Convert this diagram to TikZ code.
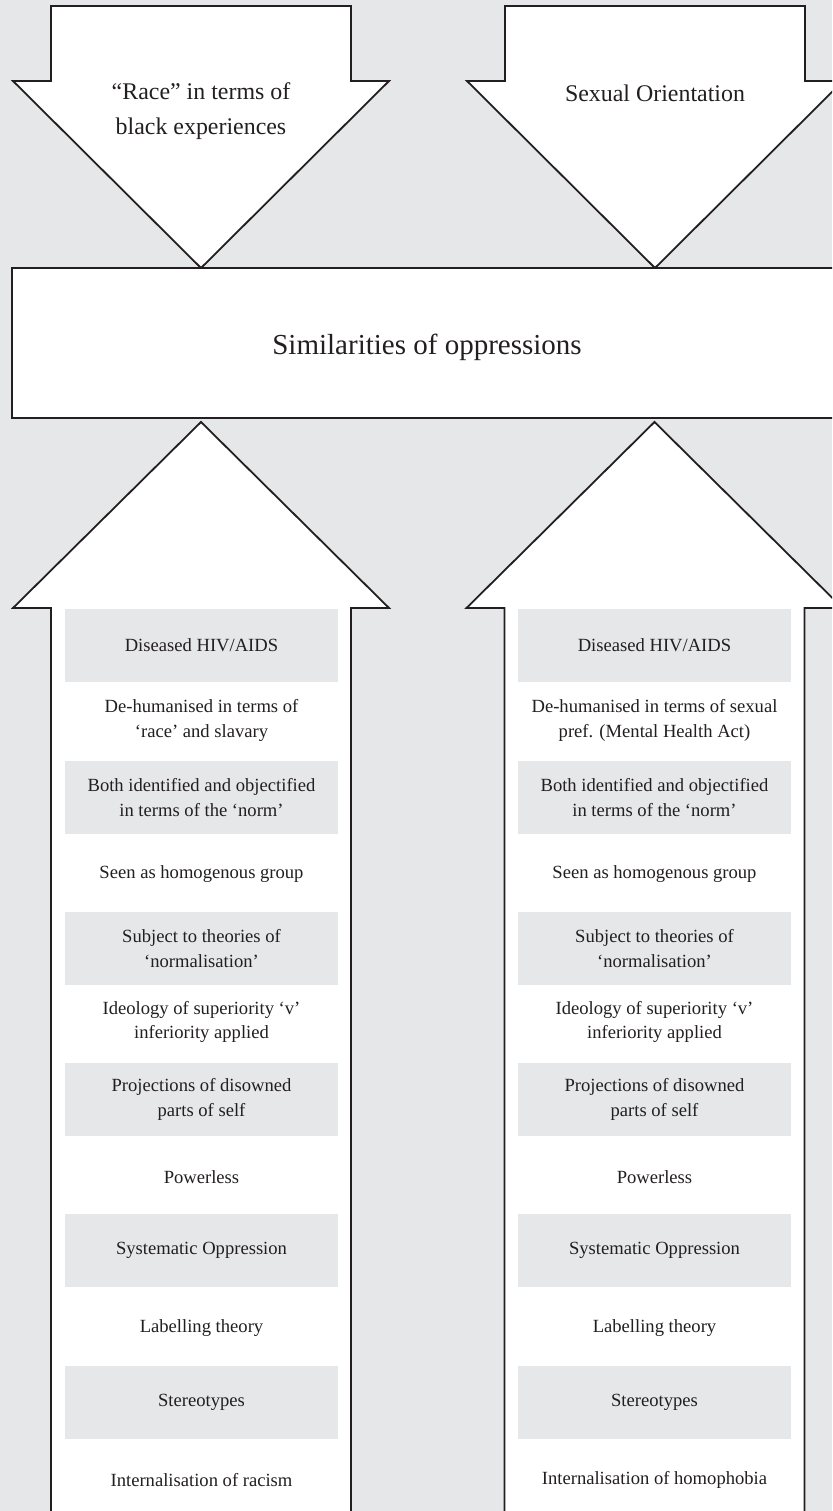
\documentclass[tikz,border=0pt]{standalone}
\usepackage{fontspec}
\setmainfont{Liberation Serif}
\definecolor{bg}{HTML}{E6E7E8}
\definecolor{ink}{HTML}{231F20}
\begin{document}
\begin{tikzpicture}[x=1pt,y=-1pt,
  shapeline/.style={draw=ink, line width=1.8pt, fill=white, line join=miter},
  bigbox/.style={draw=ink, line width=1.8pt, fill=white, minimum width=833pt, minimum height=150pt, inner sep=0pt},
  toptext/.style={align=center, text=ink, inner sep=0pt, font=\fontsize{23.9}{35}\selectfont},
  midtext/.style={align=center, text=ink, inner sep=0pt, font=\fontsize{29}{35}\selectfont},
  rowbase/.style={align=center, text=ink, inner sep=0pt, minimum width=273pt, font=\fontsize{18.6}{24.5}\selectfont},
  rowg/.style={rowbase, fill=bg, minimum height=73pt},
  roww/.style={rowbase, minimum height=76pt}]
\useasboundingbox (0,0) rectangle (832,1511);
\clip (0,0) rectangle (832,1511);
\fill[bg] (0,0) rectangle (832,1511);

% down arrows
\foreach \cx in {201,655}{
  \draw[shapeline] (\cx-150,6) -- (\cx+150,6) -- (\cx+150,81) -- (\cx+188,81)
    -- (\cx,268) -- (\cx-188,81) -- (\cx-150,81) -- cycle;
}
\node[toptext] (race) at (201,111) {“Race” in terms of\\black experiences};
\node[toptext] (sexor) at (655,93) {Sexual Orientation};

% central box
\node[bigbox] (simbox) at (428.5,343) {};
\node[midtext] (simtext) at (427,347) {Similarities of oppressions};

% up arrows
\foreach \cx in {201,654.5}{
  \draw[shapeline] (\cx,422) -- (\cx+188,608) -- (\cx+150,608) -- (\cx+150,1530)
    -- (\cx-150,1530) -- (\cx-150,608) -- (\cx-188,608) -- cycle;
}

% left column
\node[rowg] (l1)  at (201.5,645.5)  {Diseased HIV/AIDS};
\node[roww] (l2)  at (201.5,720.5)  {De-humanised in terms of\\‘race’ and slavary};
\node[rowg] (l3)  at (201.5,797.5)  {Both identified and objectified\\in terms of the ‘norm’};
\node[roww] (l4)  at (201.5,874)    {Seen as homogenous group};
\node[rowg] (l5)  at (201.5,948.5)  {Subject to theories of\\‘normalisation’};
\node[roww] (l6)  at (201.5,1022)   {Ideology of superiority ‘v’\\inferiority applied};
\node[rowg] (l7)  at (201.5,1099.5) {Projections of disowned\\parts of self};
\node[roww] (l8)  at (201.5,1177)   {Powerless};
\node[rowg] (l9)  at (201.5,1250.5) {Systematic Oppression};
\node[roww] (l10) at (201.5,1328)   {Labelling theory};
\node[rowg] (l11) at (201.5,1402.5) {Stereotypes};
\node[roww] (l12) at (201.5,1480)   {Internalisation of racism};

% right column
\node[rowg] (r1)  at (654.5,645.5)  {Diseased HIV/AIDS};
\node[roww] (r2)  at (654.5,720.5)  {De-humanised in terms of sexual\\pref. (Mental Health Act)};
\node[rowg] (r3)  at (654.5,797.5)  {Both identified and objectified\\in terms of the ‘norm’};
\node[roww] (r4)  at (654.5,874)    {Seen as homogenous group};
\node[rowg] (r5)  at (654.5,948.5)  {Subject to theories of\\‘normalisation’};
\node[roww] (r6)  at (654.5,1022)   {Ideology of superiority ‘v’\\inferiority applied};
\node[rowg] (r7)  at (654.5,1099.5) {Projections of disowned\\parts of self};
\node[roww] (r8)  at (654.5,1177)   {Powerless};
\node[rowg] (r9)  at (654.5,1250.5) {Systematic Oppression};
\node[roww] (r10) at (654.5,1328)   {Labelling theory};
\node[rowg] (r11) at (654.5,1402.5) {Stereotypes};
\node[roww] (r12) at (654.5,1480)   {Internalisation of homophobia};
\end{tikzpicture}
\end{document}
